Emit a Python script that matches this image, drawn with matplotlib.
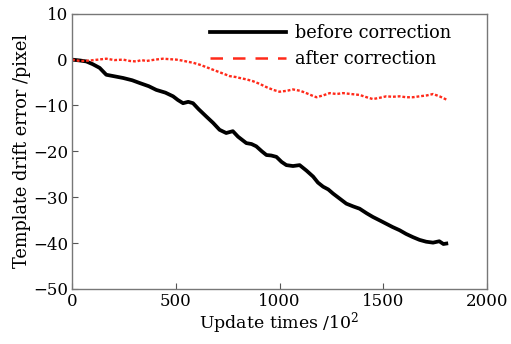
import matplotlib.pyplot as plt
from matplotlib.lines import Line2D

plt.rcParams["font.family"] = ["DejaVu Serif"]
plt.rcParams["mathtext.fontset"] = "dejavuserif"

# before correction
x_before = [0, 40, 69, 100, 133, 150, 165, 200, 246, 290, 326, 370, 406, 450, 487,
            510, 535, 560, 583, 610, 647, 680, 711, 743, 775, 800, 840, 865, 888,
            915, 937, 960, 985, 1010, 1033, 1065, 1097, 1130, 1162, 1185, 1210,
            1235, 1258, 1290, 1322, 1355, 1386, 1420, 1450, 1485, 1515, 1545,
            1579, 1610, 1643, 1675, 1707, 1740, 1770, 1790, 1804]
y_before = [0, -0.2, -0.4, -1.0, -1.8, -2.6, -3.3, -3.6, -4.0, -4.5, -5.1, -5.8,
            -6.6, -7.2, -8.0, -8.8, -9.5, -9.2, -9.5, -10.8, -12.4, -13.8, -15.3,
            -16.0, -15.6, -16.8, -18.2, -18.4, -18.9, -20.0, -20.8, -20.9, -21.2,
            -22.3, -23.0, -23.2, -23.0, -24.2, -25.5, -26.8, -27.7, -28.3, -29.2,
            -30.3, -31.4, -32.0, -32.5, -33.5, -34.3, -35.1, -35.8, -36.5, -37.2,
            -38.0, -38.7, -39.3, -39.7, -39.9, -39.6, -40.2, -40.1]

# after correction
x_after = [0, 40, 85, 125, 165, 205, 246, 280, 310, 335, 358, 400, 438, 470, 503,
           530, 551, 585, 615, 645, 679, 720, 760, 790, 808, 840, 872, 905, 937,
           970, 1000, 1035, 1065, 1100, 1129, 1155, 1178, 1210, 1242, 1275, 1306,
           1345, 1386, 1420, 1450, 1485, 1515, 1545, 1579, 1610, 1643, 1675, 1710,
           1740, 1771, 1790, 1804]
y_after = [0, -0.3, -0.2, 0.0, 0.2, -0.1, 0.0, -0.3, -0.4, -0.1, -0.3, 0.0, 0.2,
           0.1, 0.0, -0.2, -0.4, -0.7, -1.1, -1.6, -2.2, -2.9, -3.6, -3.8, -4.0,
           -4.3, -4.7, -5.3, -6.0, -6.6, -7.0, -6.8, -6.5, -6.8, -7.3, -7.8, -8.2,
           -7.8, -7.3, -7.5, -7.3, -7.5, -7.7, -8.2, -8.6, -8.3, -8.0, -8.1, -8.0,
           -8.2, -8.2, -8.0, -7.8, -7.5, -8.0, -8.4, -8.7]

fig = plt.figure(figsize=(5.11, 3.44), dpi=100)
ax = fig.add_axes([0.141, 0.16, 0.812, 0.8])

ax.plot(x_before, y_before, color="black", linewidth=2.7)
ax.plot(x_after, y_after, color="#ff2a1a", linewidth=1.7, linestyle=(0, (1.2, 0.8)))

ax.set_xlim(0, 2000)
ax.set_ylim(-50, 10)
ax.set_xticks([0, 500, 1000, 1500, 2000])
ax.set_yticks([10, 0, -10, -20, -30, -40, -50])
ax.tick_params(direction="in", length=4, width=0.8, color="#555555",
               labelsize=12, top=False, right=False, pad=3)
for s in ax.spines.values():
    s.set_color("#777777")
    s.set_linewidth(1.0)

ax.set_xlabel("Update times /10$^2$", fontsize=12.5, labelpad=0)
ax.set_ylabel("Template drift error /pixel", fontsize=12.8, labelpad=1)

handles = [Line2D([], [], color="black", linewidth=2.7),
           Line2D([], [], color="#ff2a1a", linewidth=1.8, linestyle=(0, (5, 4)))]
ax.legend(handles, ["before correction", "after correction"], loc="upper right",
          frameon=False, fontsize=12.8, handlelength=4.3, handletextpad=0.5,
          labelspacing=0.45, borderaxespad=0.2, bbox_to_anchor=(0.94, 1.0))

fig.savefig("out.png", dpi=100)
